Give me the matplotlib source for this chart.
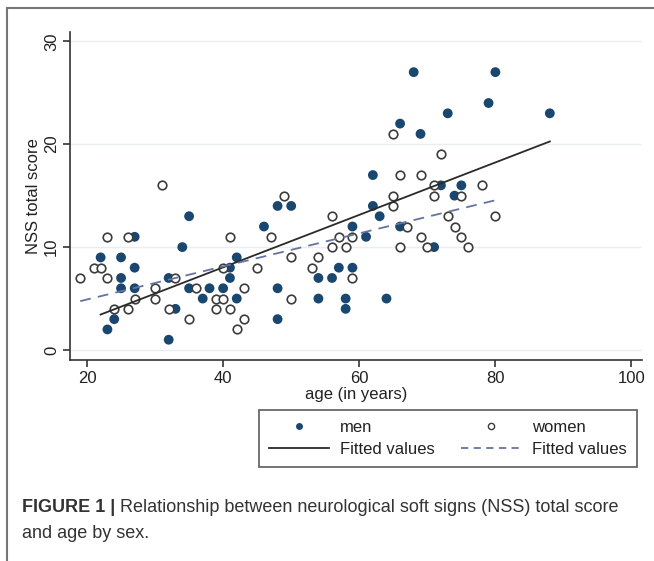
import matplotlib.pyplot as plt
import matplotlib.lines as mlines
import numpy as np

plt.rcParams['font.family'] = ['Liberation Sans', 'DejaVu Sans']

# men: age, NSS total score
men_age = [22, 23, 24, 25, 25, 25, 27, 27, 27, 32, 32, 33, 34, 35, 35, 37, 38, 40,
           41, 41, 42, 42, 46, 48, 48, 48, 50, 54, 54, 56, 57, 58, 58, 59, 59, 61,
           62, 62, 63, 64, 66, 66, 68, 69, 71, 72, 73, 74, 75, 79, 80, 88]
men_nss = [9, 2, 3, 9, 7, 6, 11, 8, 6, 1, 7, 4, 10, 13, 6, 5, 6, 6,
           8, 7, 9, 5, 12, 14, 6, 3, 14, 7, 5, 7, 8, 5, 4, 12, 8, 11,
           17, 14, 13, 5, 22, 12, 27, 21, 10, 16, 23, 15, 16, 24, 27, 23]

# women: age, NSS total score
women_age = [19, 21, 22, 23, 23, 24, 26, 26, 27, 30, 30, 31, 32, 33, 35, 36, 39, 39,
             40, 40, 41, 41, 42, 43, 43, 45, 47, 49, 50, 50, 53, 54, 56, 56, 57, 58,
             59, 59, 65, 65, 65, 66, 66, 67, 69, 69, 70, 71, 71, 72, 73, 74, 75, 75,
             76, 78, 80]
women_nss = [7, 8, 8, 11, 7, 4, 11, 4, 5, 6, 5, 16, 4, 7, 3, 6, 5, 4,
             8, 5, 11, 4, 2, 6, 3, 8, 11, 15, 9, 5, 8, 9, 13, 10, 11, 10,
             11, 7, 21, 15, 14, 17, 10, 12, 17, 11, 10, 16, 15, 19, 13, 12, 15, 11,
             10, 16, 13]

x_ticks = [20, 40, 60, 80, 100]
y_ticks = [0, 10, 20, 30]

navy = '#1a476f'
txt = '#222222'

fig = plt.figure(figsize=(6.54, 5.61), dpi=100)
W, H = 654, 561
ax = fig.add_axes([70 / W, 1 - 360 / H, (641.7 - 70) / W, (360 - 31.7) / H])

men_age = np.array(men_age); men_nss = np.array(men_nss)
women_age = np.array(women_age); women_nss = np.array(women_nss)

for y in y_ticks:
    ax.axhline(y, color='#eaeef0', lw=1.0, zorder=0)

ax.scatter(men_age, men_nss, s=50, color=navy, edgecolors='none', zorder=3)
ax.scatter(women_age, women_nss, s=38, facecolors='white', edgecolors='#3c3c3c',
           linewidths=1.2, zorder=3)

# linear fits, one per sex
bm = np.polyfit(men_age, men_nss, 1)
bw = np.polyfit(women_age, women_nss, 1)
xm = np.array([men_age.min(), men_age.max()])
xw = np.array([women_age.min(), women_age.max()])
ax.plot(xm, np.polyval(bm, xm), color='#2a2a2a', lw=1.3, zorder=4)
ax.plot(xw, np.polyval(bw, xw), color='#6474a0', lw=1.3, ls=(0, (6, 4)), zorder=4)

ax.set_xlim(17.5, 101.5)
ax.set_ylim(-0.97, 30.93)
ax.set_xticks(x_ticks)
ax.set_yticks(y_ticks)
ax.set_yticklabels([str(v) for v in y_ticks], rotation=90, va='center')
ax.tick_params(axis='both', labelsize=12, colors=txt, length=5, width=1.1, pad=3)
for s in ['top', 'right']:
    ax.spines[s].set_visible(False)
for s in ['left', 'bottom']:
    ax.spines[s].set_color('#333333')
    ax.spines[s].set_linewidth(1.2)
ax.set_xlabel('age (in years)', fontsize=12, color=txt, labelpad=1)
ax.set_ylabel('NSS total score', fontsize=12, color=txt, labelpad=2)

h_men = mlines.Line2D([], [], ls='none', marker='o', ms=5, color=navy, mec='none')
h_wom = mlines.Line2D([], [], ls='none', marker='o', ms=4.5, mfc='white', mec='#3c3c3c', mew=1.0)
h_fm = mlines.Line2D([], [], color='#2a2a2a', lw=1.3)
h_fw = mlines.Line2D([], [], color='#6474a0', lw=1.3, ls=(0, (4, 3)))
leg = fig.legend([h_men, h_fm, h_wom, h_fw],
                 ['men', 'Fitted values', 'women', 'Fitted values'],
                 ncol=2, loc='upper left', bbox_to_anchor=(259 / W, 1 - 410 / H),
                 frameon=True, fancybox=False, fontsize=12, handlelength=3.6,
                 handletextpad=0.65, columnspacing=1.6, borderpad=0.6,
                 labelspacing=0.4, borderaxespad=0)
leg.get_frame().set_edgecolor('#333333')
leg.get_frame().set_linewidth(1.2)
for t in leg.get_texts():
    t.set_color(txt)

# outer frame of the figure panel
fig.add_artist(mlines.Line2D([7 / W, 1], [1 - 8 / H, 1 - 8 / H], color='#777777', lw=1.5))
fig.add_artist(mlines.Line2D([7 / W, 7 / W], [0, 1 - 8 / H], color='#777777', lw=1.5))

# caption
cap = '#333333'
t1 = fig.text(22 / W, 1 - 507 / H, 'FIGURE 1 | ', fontsize=13, fontweight='bold',
              color=cap, va='center')
fig.canvas.draw()
bb = t1.get_window_extent(fig.canvas.get_renderer())
fig.text(bb.x1 / W, 1 - 507 / H,
         'Relationship between neurological soft signs (NSS) total score',
         fontsize=13, color=cap, va='center')
fig.text(22 / W, 1 - 533 / H, 'and age by sex.', fontsize=13, color=cap, va='center')

fig.savefig('out.png', dpi=100)
